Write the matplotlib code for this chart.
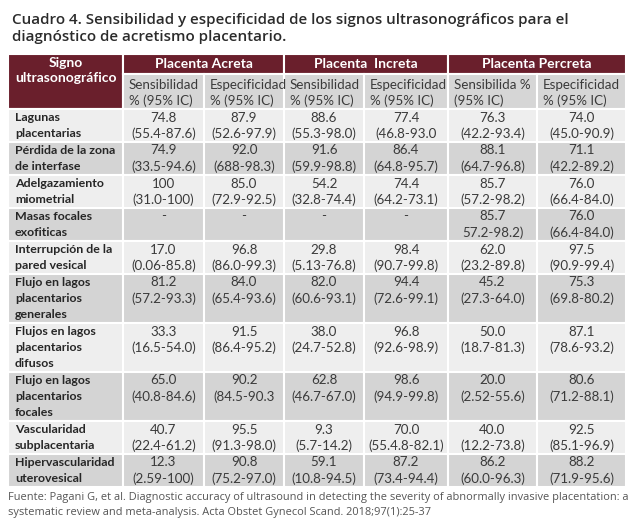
import matplotlib
matplotlib.use("Agg")
import matplotlib.pyplot as plt
from matplotlib.patches import Rectangle

# ---- data ----
TITLE = ("Cuadro 4. Sensibilidad y especificidad de los signos ultrasonográficos para el\n"
         "diagnóstico de acretismo placentario.")
FUENTE = ("Fuente: Pagani G, et al. Diagnostic accuracy of ultrasound in detecting the severity of abnormally invasive placentation: a\n"
          "systematic review and meta-analysis. Acta Obstet Gynecol Scand. 2018;97(1):25-37")

grupos = ["Placenta Acreta", "Placenta  Increta", "Placenta Percreta"]
subcols = ["Sensibilidad\n% (95% IC)", "Especificidad\n% (95% IC)",
           "Sensibilidad\n% (95% IC)", "Especificidad\n% (95% IC)",
           "Sensibilida %\n(95% IC)", "Especificidad\n% (95% IC)"]

signos = [
    "Lagunas\nplacentarias",
    "Pérdida de la zona\nde interfase",
    "Adelgazamiento\nmiometrial",
    "Masas focales\nexofiticas",
    "Interrupción de la\npared vesical",
    "Flujo en lagos\nplacentarios\ngenerales",
    "Flujos en lagos\nplacentarios\ndifusos",
    "Flujo en lagos\nplacentarios\nfocales",
    "Vascularidad\nsubplacentaria",
    "Hipervascularidad\nuterovesical",
]

sens_acreta = ["74.8", "74.9", "100", "-", "17.0", "81.2", "33.3", "65.0", "40.7", "12.3"]
ic_sens_acreta = ["(55.4-87.6)", "(33.5-94.6)", "(31.0-100)", "", "(0.06-85.8)",
                  "(57.2-93.3)", "(16.5-54.0)", "(40.8-84.6)", "(22.4-61.2)", "(2.59-100)"]
esp_acreta = ["87.9", "92.0", "85.0", "-", "96.8", "84.0", "91.5", "90.2", "95.5", "90.8"]
ic_esp_acreta = ["(52.6-97.9)", "(688-98.3)", "(72.9-92.5)", "", "(86.0-99.3)",
                 "(65.4-93.6)", "(86.4-95.2)", "(84.5-90.3", "(91.3-98.0)", "(75.2-97.0)"]
sens_increta = ["88.6", "91.6", "54.2", "-", "29.8", "82.0", "38.0", "62.8", "9.3", "59.1"]
ic_sens_increta = ["(55.3-98.0)", "(59.9-98.8)", "(32.8-74.4)", "", "(5.13-76.8)",
                   "(60.6-93.1)", "(24.7-52.8)", "(46.7-67.0)", "(5.7-14.2)", "(10.8-94.5)"]
esp_increta = ["77.4", "86.4", "74.4", "-", "98.4", "94.4", "96.8", "98.6", "70.0", "87.2"]
ic_esp_increta = ["(46.8-93.0", "(64.8-95.7)", "(64.2-73.1)", "", "(90.7-99.8)",
                  "(72.6-99.1)", "(92.6-98.9)", "(94.9-99.8)", "(55.4.8-82.1)", "(73.4-94.4)"]
sens_percreta = ["76.3", "88.1", "85.7", "85.7", "62.0", "45.2", "50.0", "20.0", "40.0", "86.2"]
ic_sens_percreta = ["(42.2-93.4)", "(64.7-96.8)", "(57.2-98.2)", "57.2-98.2)", "(23.2-89.8)",
                    "(27.3-64.0)", "(18.7-81.3)", "(2.52-55.6)", "(12.2-73.8)", "(60.0-96.3)"]
esp_percreta = ["74.0", "71.1", "76.0", "76.0", "97.5", "75.3", "87.1", "80.6", "92.5", "88.2"]
ic_esp_percreta = ["(45.0-90.9)", "(42.2-89.2)", "(66.4-84.0)", "(66.4-84.0)", "(90.9-99.4)",
                   "(69.8-80.2)", "(78.6-93.2)", "(71.2-88.1)", "(85.1-96.9)", "(71.9-95.6)"]

valores = [sens_acreta, esp_acreta, sens_increta, esp_increta, sens_percreta, esp_percreta]
intervalos = [ic_sens_acreta, ic_esp_acreta, ic_sens_increta, ic_esp_increta,
              ic_sens_percreta, ic_esp_percreta]

# ---- layout (pixels) ----
W, H = 632, 523
col_edges = [8, 123, 204, 284, 364, 448, 537, 626]
head_top, head_mid, head_bot = 54, 74, 109
line_h = 16
row_pad = 1

MAROON = "#6a1f2c"
SUB_GRAY = "#d6d6d6"
ROW_LIGHT = "#eeeeee"
ROW_DARK = "#d4d4d4"
TXT = "#3a3a3a"

BODY_FONT = ["Liberation Sans Narrow", "Lato", "DejaVu Sans"]
fs_body = 9.6
fs_bold = 8.9
fs_head = 10.0


def main() -> None:
    fig = plt.figure(figsize=(W / 100, H / 100), dpi=100)
    ax = fig.add_axes([0, 0, 1, 1])
    ax.set_xlim(0, W)
    ax.set_ylim(H, 0)
    ax.axis("off")

    ax.text(12, 13, TITLE, fontsize=10.9, fontweight="semibold", family=["Open Sans", "DejaVu Sans"],
            color="#2b2b2b", va="top", ha="left", linespacing=1.3)

    # header
    ax.add_patch(Rectangle((col_edges[0], head_top), col_edges[1] - col_edges[0], head_bot - head_top,
                           facecolor=MAROON, edgecolor="white", lw=1.5))
    xc0 = (col_edges[0] + col_edges[1]) / 2
    ax.text(xc0, 63, "Signo", ha="center", va="center",
            color="white", fontweight="bold", fontsize=fs_head, family=BODY_FONT)
    ax.text(xc0, 78, "ultrasonográfico", ha="center", va="center",
            color="white", fontweight="bold", fontsize=fs_head, family=BODY_FONT)
    for g, name in enumerate(grupos):
        x0, x1 = col_edges[1 + 2 * g], col_edges[3 + 2 * g]
        ax.add_patch(Rectangle((x0, head_top), x1 - x0, head_mid - head_top,
                               facecolor=MAROON, edgecolor="white", lw=1.5))
        ax.text((x0 + x1) / 2, 63.5, name, ha="center", va="center",
                color="white", fontweight="bold", fontsize=fs_head, family=BODY_FONT)
    for c, name in enumerate(subcols):
        x0, x1 = col_edges[1 + c], col_edges[2 + c]
        ax.add_patch(Rectangle((x0, head_mid), x1 - x0, head_bot - head_mid,
                               facecolor=SUB_GRAY, edgecolor="white", lw=1.5))
        for i, line in enumerate(name.split("\n")):
            ax.text(x0 + 6, 85 + i * 15.5, line, ha="left", va="center",
                    color=TXT, fontsize=fs_body, family=BODY_FONT)

    # body
    y = head_bot
    for r, signo in enumerate(signos):
        n_lines = signo.count("\n") + 1
        h = n_lines * line_h + row_pad
        face = ROW_LIGHT if r % 2 == 0 else ROW_DARK
        for c in range(len(col_edges) - 1):
            x0, x1 = col_edges[c], col_edges[c + 1]
            ax.add_patch(Rectangle((x0, y), x1 - x0, h, facecolor=face, edgecolor="white", lw=1.5))
        for i, line in enumerate(signo.split("\n")):
            ax.text(col_edges[0] + 7, y + 8.5 + i * line_h, line, ha="left", va="center",
                    color="#262626", fontweight="bold", fontsize=fs_bold, family=BODY_FONT)
        for c in range(len(valores)):
            xc = (col_edges[1 + c] + col_edges[2 + c]) / 2
            ax.text(xc, y + 8.5, valores[c][r], ha="center", va="center",
                    color=TXT, fontsize=fs_body, family=BODY_FONT)
            if intervalos[c][r]:
                ax.text(xc, y + 8.5 + line_h, intervalos[c][r], ha="center", va="center",
                        color=TXT, fontsize=fs_body, family=BODY_FONT)
        y += h

    ax.text(8, y + 5, FUENTE, ha="left", va="top", fontsize=7.95, color="#555555",
            family=["Open Sans", "DejaVu Sans"], linespacing=1.45)

    fig.savefig("out.png", dpi=100)
    plt.close(fig)


if __name__ == "__main__":
    main()
